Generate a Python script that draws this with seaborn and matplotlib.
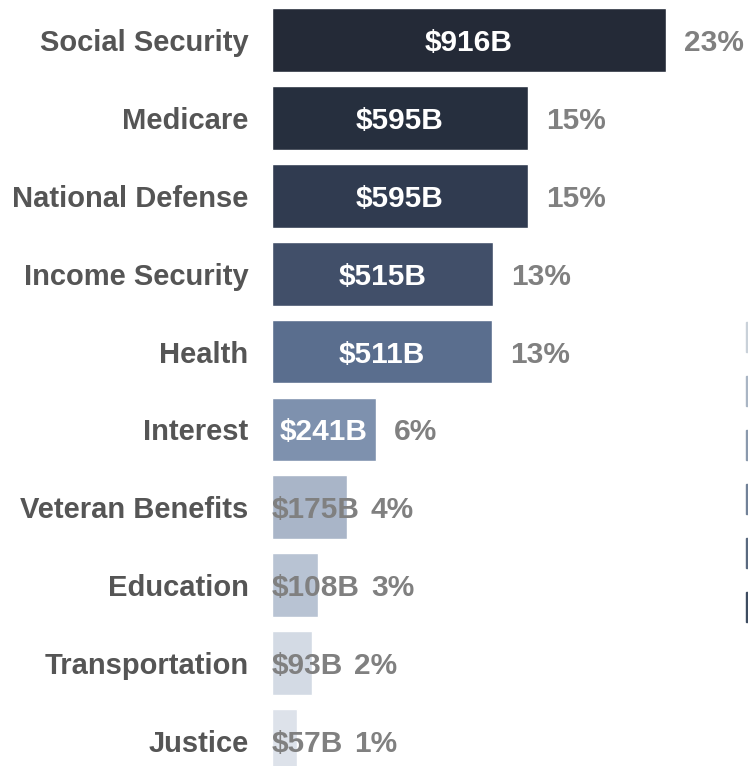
import numpy as np
import matplotlib
matplotlib.use('Agg')
import matplotlib.pyplot as plt
import matplotlib.patches as mpatches
import seaborn as sns

# Federal spending by category, billions of dollars
categories = ['Social Security', 'Medicare', 'National Defense', 'Income Security', 'Health',
              'Interest', 'Veteran Benefits', 'Education', 'Transportation', 'Justice']
spending = [916, 595, 595, 515, 511, 241, 175, 108, 93, 57]
shares = [23, 15, 15, 13, 13, 6, 4, 3, 2, 1]
bar_colors = ['#242a37', '#262f3e', '#303b50', '#414f69', '#5a6e8e',
              '#7e91ae', '#a9b5c8', '#b8c3d3', '#d3dae4', '#dde2ea']
legend_colors = ['#c9d1d9', '#a9b5c4', '#8a99ad', '#718198', '#59697f', '#3d4c60']

sns.set_theme(style='white')
plt.rcParams['font.family'] = ['Liberation Sans', 'DejaVu Sans']

fig = plt.figure(figsize=(7.48, 7.66), dpi=100)
ax = fig.add_axes([272 / 748, 0, 476 / 748, 1])

sns.barplot(x=spending, y=categories, hue=categories, palette=bar_colors, legend=False,
            width=0.82, saturation=1, ax=ax)

ax.set_xlim(0, 476 / 0.43)
ax.set_ylim(9 + 25 / 77.9, -40 / 77.9)
sns.despine(ax=ax, left=True, bottom=True)
ax.set_xticks([])
ax.set_xlabel('')
ax.set_ylabel('')
ax.tick_params(axis='y', length=0, pad=17)
for lbl in ax.get_yticklabels():
    lbl.set_fontsize(21)
    lbl.set_fontweight('bold')
    lbl.set_color('#555555')

for i, (v, s) in enumerate(zip(spending, shares)):
    if v > 200:
        ax.text(v / 2, i, f'${v}B', ha='center', va='center_baseline', color='white',
                fontsize=21.5, fontweight='bold')
        ax.annotate(f'{s}%', xy=(v, i), xytext=(13, 0), textcoords='offset points',
                    ha='left', va='center_baseline', color='#808080', fontsize=21.5, fontweight='bold')
    else:
        t = ax.text(0, i, f'${v}B', ha='left', va='center_baseline', color='#808080',
                    fontsize=21.5, fontweight='bold')
        ax.annotate(f'{s}%', xy=(1, 0.5), xycoords=t, xytext=(8, 0), textcoords='offset points',
                    ha='left', va='center', color='#808080', fontsize=21.5, fontweight='bold')

# legend swatches, mostly cut off at the right edge
handles = [mpatches.Patch(color=c) for c in legend_colors]
fig.legend(handles, [' '] * len(handles), loc='upper left', bbox_to_anchor=(746 / 748, 1 - 322 / 766),
           frameon=False, fontsize=10, handlelength=2.2, handleheight=2.95, labelspacing=1.73,
           borderpad=0, borderaxespad=0, handletextpad=0.5)

fig.savefig('out.png', dpi=100)
